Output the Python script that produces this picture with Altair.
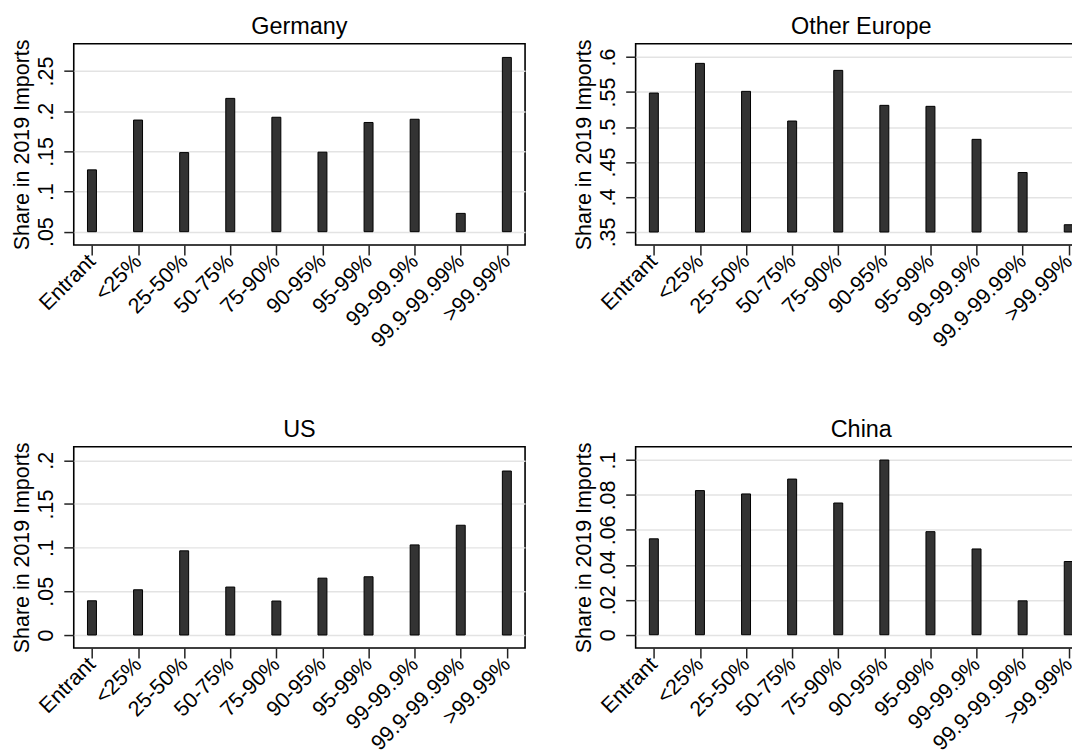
import altair as alt
import pandas as pd

categories = ["Entrant", "<25%", "25-50%", "50-75%", "75-90%", "90-95%",
              "95-99%", "99-99.9%", "99.9-99.99%", ">99.99%"]

germany = [0.127, 0.189, 0.1485, 0.216, 0.1925, 0.149, 0.186, 0.190, 0.0728, 0.267]
other_europe = [0.5486, 0.591, 0.551, 0.5086, 0.581, 0.531, 0.5296, 0.4824, 0.435, 0.3604]
us = [0.0392, 0.0518, 0.0964, 0.0549, 0.0389, 0.0651, 0.0667, 0.1032, 0.1257, 0.1878]
china = [0.0549, 0.0825, 0.0806, 0.0891, 0.0754, 0.1, 0.059, 0.0491, 0.0194, 0.0419]

germany_ticks = [0.05, 0.1, 0.15, 0.2, 0.25]
other_europe_ticks = [0.35, 0.4, 0.45, 0.5, 0.55, 0.6]
us_ticks = [0, 0.05, 0.1, 0.15, 0.2]
china_ticks = [0, 0.02, 0.04, 0.06, 0.08, 0.1]

FONT = "Liberation Sans"
H = 202
W = 453


def panel(title, values, ticks, domain):
    base = ticks[0]
    df = pd.DataFrame({"cat": categories, "share": values, "base": [base] * len(values)})
    bars = (
        alt.Chart(df)
        .mark_bar(size=9, fill="#333333", stroke="#000000", strokeWidth=1)
        .encode(
            x=alt.X("cat:N", sort=categories,
                    scale=alt.Scale(type="point", padding=0.395),
                    axis=alt.Axis(title=None, labelAngle=315, labelAlign="right",
                                  labelBaseline="middle", labelPadding=3, grid=False)),
            y=alt.Y("share:Q",
                    scale=alt.Scale(domain=domain, nice=False, zero=False),
                    axis=alt.Axis(title="Share in 2019 Imports", values=ticks,
                                  labelAngle=270, labelAlign="center",
                                  labelBaseline="bottom", labelPadding=6.5,
                                  titlePadding=1.5,
                                  labelExpr="datum.value == 0 ? '0' : slice(format(datum.value, '.2~f'), 1)",
                                  grid=True)),
            y2="base:Q",
        )
    )
    head = (
        alt.Chart(pd.DataFrame({"t": [title]}))
        .mark_text(font=FONT, fontSize=23.5, baseline="alphabetic", align="center",
                   color="#000000")
        .encode(text="t:N", x=alt.value(W / 2), y=alt.value(-10))
    )
    return alt.layer(bars, head).properties(width=W, height=H)


g = panel("Germany", germany, germany_ticks, [0.0334, 0.284])
oe = panel("Other Europe", other_europe, other_europe_ticks, [0.3314, 0.619])
u = panel("US", us, us_ticks, [-0.0149, 0.2156])
c = panel("China", china, china_ticks, [-0.0076, 0.1076])

chart = (
    alt.vconcat(
        alt.hconcat(g, oe, spacing=47),
        alt.hconcat(u, c, spacing=47),
        spacing=64.5,
    )
    .properties(background="white",
                padding={"left": 3, "top": 4.5, "right": -16, "bottom": 0})
    .configure_view(stroke="#000000", strokeWidth=1.6)
    .configure_axis(domain=False, labelFont=FONT, titleFont=FONT,
                    labelFontSize=21.5, titleFontSize=21.5,
                    labelColor="#000000", titleColor="#000000",
                    titleFontWeight="normal",
                    tickColor="#222222", tickWidth=1.5, tickSize=10,
                    gridColor="#e3e3e3", gridWidth=1.5, labelOverlap=False,
                    labelBound=False, labelFlush=False)
)

chart.save("out.html", embed_options={"renderer": "svg", "actions": False})
